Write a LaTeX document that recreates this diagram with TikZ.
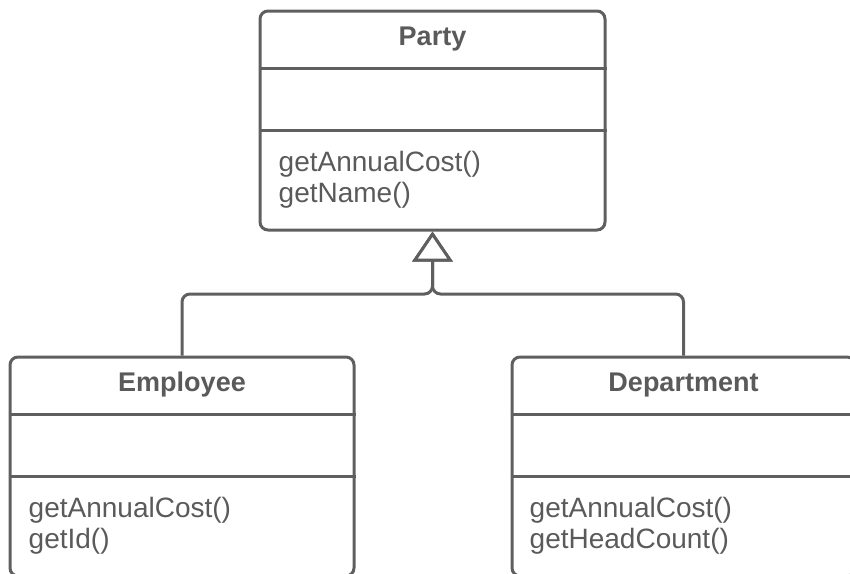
\documentclass[tikz,border=0pt]{standalone}
\usepackage{fontspec}
\setmainfont{Liberation Sans}
\usetikzlibrary{arrows.meta}
\definecolor{umlline}{HTML}{5F5F5F}
\definecolor{umltext}{HTML}{5A5A5A}
\begin{document}
\begin{tikzpicture}[x=1pt,y=-1pt,
  classbox/.style={draw=umlline, line width=3pt, rounded corners=8pt, minimum width=#1, minimum height=219pt, inner sep=0pt},
  divider/.style={draw=umlline, line width=3pt},
  title/.style={anchor=base, text=umltext, inner sep=0pt, font=\fontsize{27}{30}\selectfont\bfseries},
  member/.style={anchor=base west, text=umltext, inner sep=0pt, font=\fontsize{28}{30}\selectfont},
  conn/.style={draw=umlline, line width=3pt, rounded corners=8pt},
  gen/.style={-{Triangle[open, length=30pt, width=40pt, fill=white]}}
]
\useasboundingbox (0,0) rectangle (850,573);
\clip (0,0) rectangle (850,573);

% class boxes
\node[classbox=345pt] (party) at (432.5,120.5) {};
\node[classbox=344pt] (emp) at (182,466.5) {};
\node[classbox=343pt] (dept) at (683.5,466.5) {};

% compartment dividers
\foreach \b in {party,emp,dept}{
  \draw[divider] ([yshift=-59pt]\b.north west) -- ([yshift=-59pt]\b.north east);
  \draw[divider] ([yshift=-121pt]\b.north west) -- ([yshift=-121pt]\b.north east);
}

% titles
\node[title] (partyT) at ([yshift=-35.5pt]party.north) {Party};
\node[title] (empT) at ([yshift=-35.5pt]emp.north) {Employee};
\node[title] (deptT) at ([yshift=-35.5pt]dept.north) {Department};

% operations
\node[member] (partyM1) at ([xshift=20pt,yshift=-162pt]party.north west) {getAnnualCost()};
\node[member] (partyM2) at ([xshift=20pt,yshift=-192.5pt]party.north west) {getName()};
\node[member] (empM1) at ([xshift=20pt,yshift=-162pt]emp.north west) {getAnnualCost()};
\node[member] (empM2) at ([xshift=20pt,yshift=-192.5pt]emp.north west) {getId()};
\node[member] (deptM1) at ([xshift=19pt,yshift=-162pt]dept.north west) {getAnnualCost()};
\node[member] (deptM2) at ([xshift=19pt,yshift=-192.5pt]dept.north west) {getHeadCount()};

% generalization connectors
\coordinate (joint) at (party.south |- 0,294);
\draw[conn,gen] (emp.north) -- (emp.north |- joint) -- (joint) -- (party.south);
\draw[conn,gen] (dept.north) -- (dept.north |- joint) -- (joint) -- (party.south);
\end{tikzpicture}
\end{document}
